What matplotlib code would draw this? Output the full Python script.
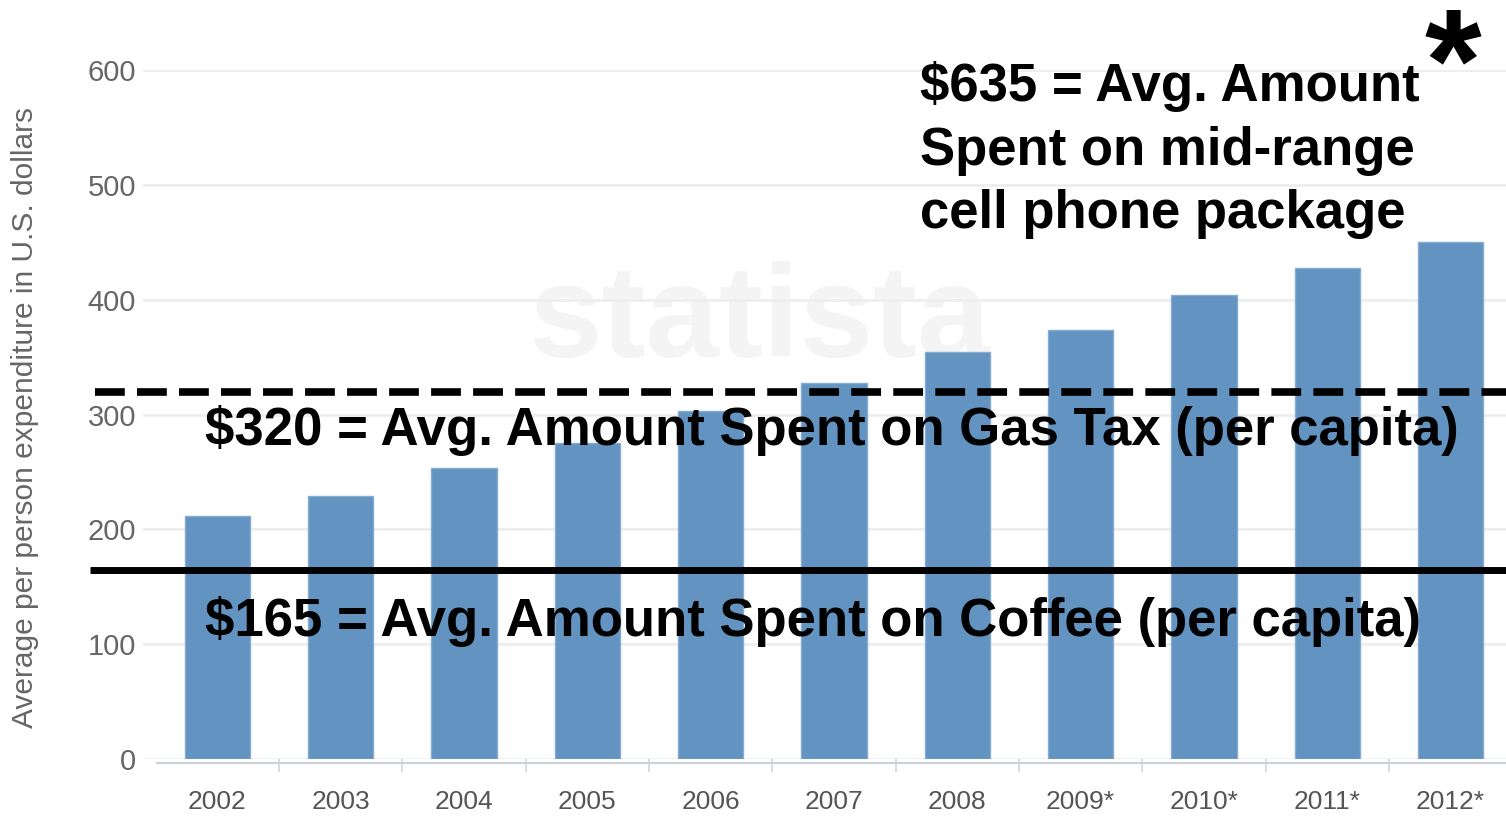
import matplotlib
matplotlib.use("Agg")
import matplotlib.pyplot as plt

plt.rcParams['font.family'] = ['Liberation Sans', 'DejaVu Sans']

# per person spending, U.S. dollars (* = forecast)
years = ['2002', '2003', '2004', '2005', '2006', '2007', '2008',
         '2009*', '2010*', '2011*', '2012*']
spend = [212, 229, 253, 275, 303, 327, 354, 374, 404, 428, 450]
y_ticks = [0, 100, 200, 300, 400, 500, 600]

gas_tax = 320
coffee = 165
gas_label = '$320 = Avg. Amount Spent on Gas Tax (per capita)'
coffee_label = '$165 = Avg. Amount Spent on Coffee (per capita)'
phone_label = '$635 = Avg. Amount\nSpent on mid-range\ncell phone package'

W, H = 1506, 817
fig = plt.figure(figsize=(W / 100, H / 100), dpi=100)

# axes box in pixels: left edge 143, bottom 759, 600 at y=70
ax = fig.add_axes([143 / W, (H - 759) / H, (W - 143) / W, (759 - 70) / H])
ax.set_xlim(-0.604, 10.45)
ax.set_ylim(0, 600)

ax.set_yticks(y_ticks)
ax.yaxis.grid(True, color='#eeeeee', linewidth=2)
ax.set_axisbelow(True)
for s in ax.spines.values():
    s.set_visible(False)

# faint watermark behind the bars
ax.text(4.4, 380, 'statista', fontsize=95, fontweight='bold',
        color='#f4f4f4', ha='center', va='center', zorder=0.5)

x = list(range(len(years)))
ax.bar(x, spend, width=0.53, color='#6393c0', edgecolor='#86acd2',
       linewidth=1, zorder=2)

# baseline and small separators between categories
ax.plot([-0.49, 10.6], [-3.5, -3.5], color='#c8d0da', lw=1.5,
        clip_on=False, zorder=3)
ax.set_xticks(x)
ax.set_xticklabels(years)
ax.set_xticks([i + 0.5 for i in x[:-1]], minor=True)
ax.tick_params(axis='x', which='major', length=0, pad=22,
               labelsize=19, labelcolor='#555555')
ax.tick_params(axis='x', which='minor', length=9, width=1.2,
               color='#d5d5d5', direction='out')
ax.tick_params(axis='y', length=0, pad=5, labelsize=21,
               labelcolor='#666666')

fig.text(25 / W, 1 - 418 / H,
         'Average per person expenditure in U.S. dollars',
         rotation=90, ha='center', va='center', fontsize=21.5,
         color='#666666')

# reference lines for gas tax and coffee
ax.hlines(gas_tax, -0.99, 10.6, colors='black', linewidth=5.5,
          linestyles=(0, (3.9, 1.6)), clip_on=False, zorder=5)
ax.hlines(coffee, -1.03, 10.6, colors='black', linewidth=5,
          clip_on=False, zorder=5)

ax.text(-0.1, gas_tax - 34, gas_label, fontsize=38, fontweight='bold',
        ha='left', va='center', zorder=6)
ax.text(-0.1, coffee - 45, coffee_label, fontsize=38, fontweight='bold',
        ha='left', va='center', zorder=6)

fig.text(920 / W, 1 - 150 / H, phone_label, fontsize=38,
         fontweight='bold', ha='left', va='center', linespacing=1.35)
fig.text(1453 / W, 1 - 72 / H, '*', fontsize=105, fontweight='bold',
         ha='center', va='center')

fig.savefig('out.png', dpi=100)
